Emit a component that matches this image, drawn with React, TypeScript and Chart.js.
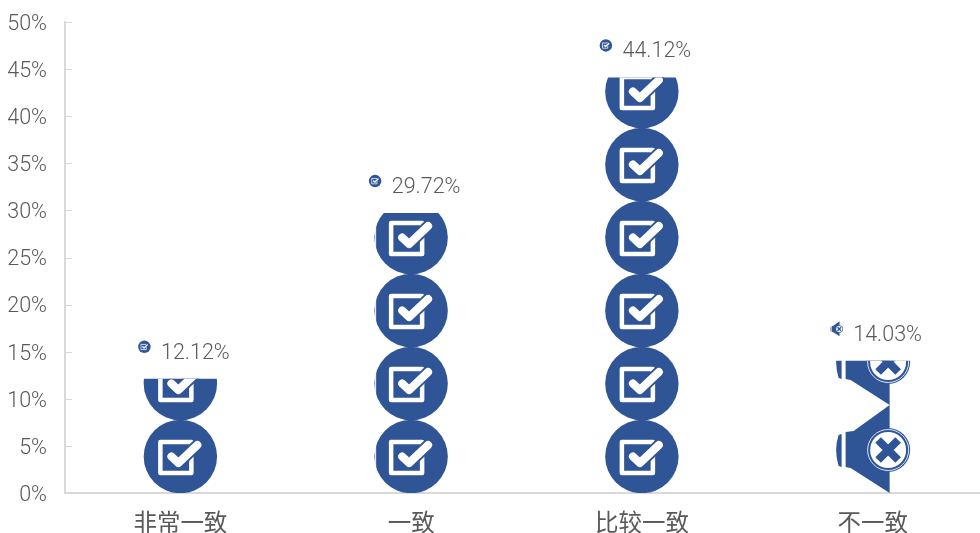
import React, { useEffect, useRef } from "react";
import { Chart, registerables } from "chart.js";

Chart.register(...registerables);

const categories = ["非常一致", "一致", "比较一致", "不一致"];
const shares = [12.12, 29.72, 44.12, 14.03];
const valueLabels = ["12.12%", "29.72%", "44.12%", "14.03%"];
const iconKinds = ["check", "check", "check", "cross"];

const BLUE = "#2F5597";
const TEXT = "#595959";
const AXIS = "#D9D9D9";
const LATIN = "Roboto, 'Noto Sans CJK SC', sans-serif";

function drawCheck(ctx: CanvasRenderingContext2D, cx: number, cy: number, k: number) {
  ctx.save();
  ctx.translate(cx, cy);
  ctx.scale(k, k);
  ctx.fillStyle = BLUE;
  ctx.beginPath();
  ctx.arc(0, 0, 36.7, 0, Math.PI * 2);
  ctx.fill();
  ctx.strokeStyle = "#FFFFFF";
  ctx.lineWidth = 4.5;
  ctx.lineJoin = "round";
  ctx.strokeRect(-20, -14.5, 31, 31);
  ctx.lineCap = "round";
  ctx.strokeStyle = BLUE;
  ctx.lineWidth = 12;
  ctx.beginPath();
  ctx.moveTo(-9, 0.5);
  ctx.lineTo(-2, 6.5);
  ctx.lineTo(17, -11.5);
  ctx.stroke();
  ctx.strokeStyle = "#FFFFFF";
  ctx.lineWidth = 8;
  ctx.lineCap = "round";
  ctx.beginPath();
  ctx.moveTo(-9, 0);
  ctx.lineTo(-2, 6.5);
  ctx.lineTo(17, -11.5);
  ctx.stroke();
  ctx.restore();
}

// Speaker icon; (cx, cy) is the centre of its 73 x 88 box.
function drawCross(ctx: CanvasRenderingContext2D, cx: number, cy: number, k: number) {
  ctx.save();
  ctx.translate(cx, cy);
  ctx.scale(k, k);
  ctx.fillStyle = BLUE;
  ctx.beginPath();
  ctx.moveTo(17, -44);
  ctx.lineTo(-19, -18);
  ctx.lineTo(-27, -17);
  ctx.lineTo(-27, 18);
  ctx.lineTo(-22, 19);
  ctx.lineTo(17, 44);
  ctx.closePath();
  ctx.fill();
  ctx.beginPath();
  ctx.moveTo(-31, -15);
  ctx.lineTo(-31, 18);
  ctx.lineTo(-34, 17);
  ctx.quadraticCurveTo(-39, 1, -34, -14);
  ctx.closePath();
  ctx.fill();
  ctx.beginPath();
  ctx.arc(15.5, 1, 22, 0, Math.PI * 2);
  ctx.fill();
  ctx.strokeStyle = "#DCE4F2";
  ctx.lineWidth = 1;
  ctx.beginPath();
  ctx.arc(15.5, 1, 20.5, 0, Math.PI * 2);
  ctx.stroke();
  ctx.fillStyle = "#FFFFFF";
  ctx.beginPath();
  ctx.arc(15.5, 1, 18, 0, Math.PI * 2);
  ctx.fill();
  ctx.strokeStyle = BLUE;
  ctx.lineWidth = 8;
  ctx.beginPath();
  ctx.moveTo(5.5, -9);
  ctx.lineTo(25.5, 11);
  ctx.moveTo(25.5, -9);
  ctx.lineTo(5.5, 11);
  ctx.stroke();
  ctx.restore();
}

const pictorial = {
  id: "pictorial",
  afterDatasetsDraw(chart: any) {
    const { ctx, scales } = chart;
    const bars = chart.getDatasetMeta(0).data;
    bars.forEach((bar: any, i: number) => {
      const kind = iconKinds[i];
      const half = bar.width / 2;
      const period = kind === "check" ? 73 : 88;
      ctx.save();
      ctx.beginPath();
      ctx.rect(bar.x - half - 2, bar.y, bar.width + 4, bar.base - bar.y);
      ctx.clip();
      for (let b = bar.base; b > bar.y; b -= period) {
        const cy = b - period / 2;
        if (kind === "check") {
          drawCheck(ctx, bar.x, cy, 1);
          if (i === 1) {
            // thin seam near the left edge of this column's icons
            ctx.fillStyle = "#FFFFFF";
            ctx.fillRect(bar.x - 36, cy - 17, 1, 34);
          }
        } else drawCross(ctx, bar.x, cy, 1);
      }
      ctx.restore();
      if (kind === "check") drawCheck(ctx, bar.x - 36, bar.y - 32, 0.17);
      else drawCross(ctx, bar.x - 36, bar.y - 32, 0.17);
      ctx.save();
      ctx.font = `300 21.5px ${LATIN}`;
      ctx.fillStyle = TEXT;
      ctx.textAlign = "center";
      ctx.textBaseline = "middle";
      ctx.fillText(valueLabels[i], bar.x + 15, bar.y - 25.5);
      ctx.restore();
    });
    // inward tick marks on the value axis
    const y = scales.y;
    ctx.save();
    ctx.strokeStyle = AXIS;
    ctx.lineWidth = 1;
    y.ticks.forEach((_: any, idx: number) => {
      const p = Math.round(y.getPixelForTick(idx)) + 0.5;
      ctx.beginPath();
      ctx.moveTo(y.right, p);
      ctx.lineTo(y.right + 7, p);
      ctx.stroke();
    });
    ctx.restore();
  },
};

export default function App() {
  const ref = useRef<HTMLCanvasElement>(null);
  useEffect(() => {
    document.body.style.margin = "0";
    const chart = new Chart(ref.current!, {
      type: "bar",
      data: {
        labels: categories,
        datasets: [
          {
            data: shares,
            backgroundColor: "rgba(0,0,0,0)",
            barThickness: 73,
          },
        ],
      },
      options: {
        responsive: false,
        animation: false,
        layout: { autoPadding: false, padding: { top: 22, right: 0, left: 0, bottom: 0 } },
        plugins: { legend: { display: false }, tooltip: { enabled: false } },
        scales: {
          x: {
            afterFit: (s: any) => {
              s.height = 40;
              s.paddingLeft = 0;
              s.paddingRight = 0;
            },
            grid: { display: false },
            border: { display: true, color: AXIS, width: 2 },
            ticks: {
              color: TEXT,
              font: { family: "'Noto Sans CJK SC', sans-serif", size: 23.5 },
              padding: 7,
              maxRotation: 0,
            },
          },
          y: {
            min: 0,
            max: 50,
            afterFit: (s: any) => {
              s.width = 65;
              s.paddingTop = 0;
              s.paddingBottom = 0;
            },
            grid: { display: false },
            border: { display: true, color: AXIS, width: 2 },
            ticks: {
              stepSize: 5,
              color: TEXT,
              padding: 10,
              labelOffset: 2.5,
              font: { family: LATIN, size: 21.5, weight: "300" },
              callback: (v: any) => `${v}%`,
            },
          },
        },
      },
      plugins: [pictorial],
    });
    return () => chart.destroy();
  }, []);
  return (
    <div style={{ width: 980, height: 533, overflow: "hidden", position: "relative" }}>
      <canvas ref={ref} width={988} height={533} style={{ display: "block" }} />
    </div>
  );
}
